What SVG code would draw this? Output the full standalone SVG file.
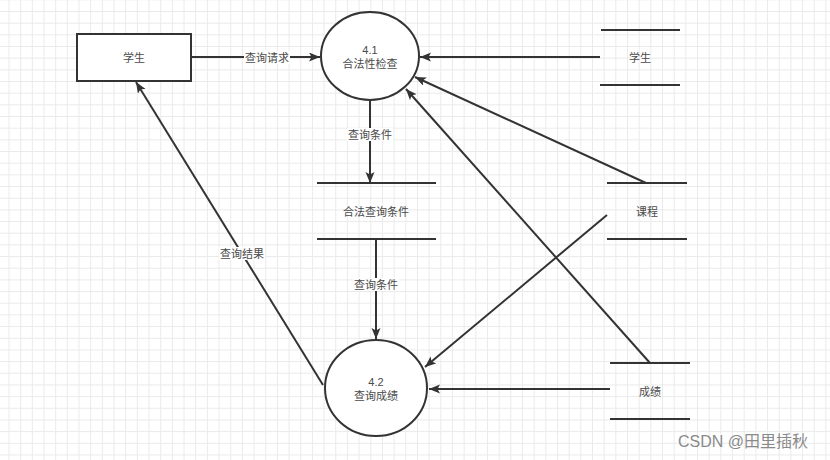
<svg xmlns="http://www.w3.org/2000/svg" width="830" height="460" viewBox="0 0 830 460">
<style>
.shape{fill:#fff;stroke:#333;stroke-width:2}
.store{stroke:#333;stroke-width:2;fill:none}
.edge{stroke:#333;stroke-width:2;fill:none}
.t{font-family:"Liberation Sans","Noto Sans CJK SC",sans-serif;font-size:11px;fill:#4a4a4a;text-anchor:middle;dominant-baseline:central}
.lbl{fill:#fff}
.wm{font-family:"Liberation Sans","Noto Sans CJK SC",sans-serif;font-size:16px;fill:#8a8a8a}
</style>
<defs>
<pattern id="grid" patternUnits="userSpaceOnUse" x="8.5" y="11" width="11.67" height="11.67">
<path d="M0,0.5 H11.67 M0.5,0 V11.67" stroke="#eaeaea" stroke-width="1" fill="none"/>
</pattern>
<marker id="arr" markerUnits="userSpaceOnUse" markerWidth="12" markerHeight="10" refX="11" refY="4.5" orient="auto">
<path d="M0,0 L11,4.5 L0,9 L2.5,4.5 Z" fill="#333"/>
</marker>
</defs>
<rect width="830" height="460" fill="#fff"/>
<rect width="830" height="460" fill="url(#grid)"/>

<g id="edges">
<line class="edge" x1="191" y1="57" x2="320" y2="57" marker-end="url(#arr)"/>
<line class="edge" x1="600" y1="57" x2="420" y2="57" marker-end="url(#arr)"/>
<line class="edge" x1="646" y1="183" x2="415" y2="77" marker-end="url(#arr)"/>
<line class="edge" x1="650" y1="363" x2="406" y2="89" marker-end="url(#arr)"/>
<line class="edge" x1="370" y1="101" x2="370" y2="183" marker-end="url(#arr)"/>
<line class="edge" x1="376" y1="239" x2="376" y2="339" marker-end="url(#arr)"/>
<line class="edge" x1="607" y1="215" x2="425" y2="367" marker-end="url(#arr)"/>
<line class="edge" x1="610" y1="389" x2="429" y2="389" marker-end="url(#arr)"/>
<line class="edge" x1="323" y1="385" x2="136" y2="82" marker-end="url(#arr)"/>
<rect class="lbl" x="244" y="51" width="46" height="13"/>
<text class="t" x="267" y="57.5">查询请求</text>
<rect class="lbl" x="347" y="128" width="46" height="13"/>
<text class="t" x="370" y="134.5">查询条件</text>
<rect class="lbl" x="353" y="278" width="46" height="13"/>
<text class="t" x="376" y="284.5">查询条件</text>
<rect class="lbl" x="219" y="247" width="46" height="13"/>
<text class="t" x="242" y="253.5">查询结果</text>
</g>

<g id="student">
<rect class="shape" x="77" y="34" width="114" height="47"/>
<text class="t" x="134" y="57.5">学生</text>
</g>

<g id="p41">
<ellipse class="shape" cx="370" cy="56" rx="49" ry="44"/>
<text class="t" x="370" y="50">4.1</text>
<text class="t" x="370" y="64">合法性检查</text>
</g>

<g id="ds-student">
<line class="store" x1="601" y1="30" x2="680" y2="30"/>
<line class="store" x1="600" y1="85" x2="680" y2="85"/>
<text class="t" x="640" y="58">学生</text>
</g>

<g id="ds-cond">
<line class="store" x1="317" y1="183" x2="436" y2="183"/>
<line class="store" x1="317" y1="239" x2="436" y2="239"/>
<text class="t" x="376" y="212">合法查询条件</text>
</g>

<g id="ds-course">
<line class="store" x1="607" y1="183" x2="687" y2="183"/>
<line class="store" x1="607" y1="239" x2="687" y2="239"/>
<text class="t" x="647" y="212">课程</text>
</g>

<g id="ds-score">
<line class="store" x1="610" y1="363" x2="690" y2="363"/>
<line class="store" x1="610" y1="419" x2="690" y2="419"/>
<text class="t" x="650" y="392">成绩</text>
</g>

<g id="p42">
<ellipse class="shape" cx="376" cy="388" rx="51" ry="48"/>
<text class="t" x="376" y="382">4.2</text>
<text class="t" x="376" y="396">查询成绩</text>
</g>

<text class="wm" x="678" y="447">CSDN @田里插秋</text>
</svg>
